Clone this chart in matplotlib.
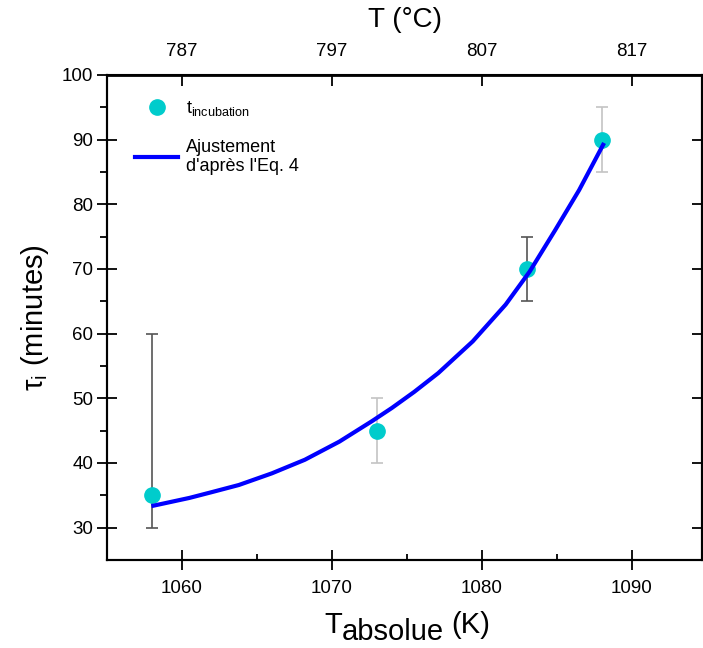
import matplotlib
matplotlib.use("Agg")
import matplotlib.pyplot as plt

plt.rcParams['font.family'] = ['Liberation Sans', 'DejaVu Sans']
plt.rcParams['mathtext.fontset'] = 'custom'
plt.rcParams['mathtext.rm'] = 'Liberation Sans'
plt.rcParams['mathtext.it'] = 'Liberation Sans:italic'

# measured incubation times
temp_k = [1058, 1073, 1083, 1088]
tau_i = [35, 45, 70, 90]
err_low = [5, 5, 5, 5]
err_high = [25, 5, 5, 5]
bar_colors = ['#555555', '#c4c4c4', '#555555', '#c4c4c4']
cap_colors = ['#555555', '#333333', '#333333', '#c4c4c4']

# fitted curve (Eq. 4)
fit_t = [1058.1, 1060.5, 1062, 1063.8, 1066, 1068.2, 1070.5, 1072.7, 1074,
         1075.5, 1077.1, 1079.4, 1081.6, 1083.2, 1084.9, 1086.5, 1088.1]
fit_tau = [33.4, 34.6, 35.5, 36.6, 38.4, 40.5, 43.3, 46.5, 48.5,
           51.0, 53.9, 58.8, 64.5, 69.6, 76.0, 82.2, 89.2]

x_ticks = [1060, 1070, 1080, 1090]
top_labels = ['787', '797', '807', '817']

fig = plt.figure(figsize=(7.03, 6.48), dpi=100)
ax = fig.add_axes([0.1522, 0.1358, 0.8464, 0.7485])

for t, v, lo, hi, bc, cc in zip(temp_k, tau_i, err_low, err_high, bar_colors, cap_colors):
    eb = ax.errorbar([t], [v], yerr=[[lo], [hi]], fmt='none', ecolor=bc,
                     elinewidth=1.2, capsize=4.5, capthick=1.2, zorder=1)
    for cap in eb[1]:
        cap.set_color(cc)

ax.plot(temp_k, tau_i, 'o', color='#00cccc', markersize=11, zorder=2,
        label=r'$\mathregular{t_{incubation}}$')
ax.plot(fit_t, fit_tau, '-', color='#0000ff', linewidth=3, zorder=3,
        solid_joinstyle='round', label="Ajustement\nd'après l'Eq. 4")

ax.set_xlim(1055, 1094.7)
ax.set_ylim(25, 100)
ax.set_xticks(x_ticks)
ax.set_xticks([1065, 1075, 1085], minor=True)
ax.set_yticks(range(30, 101, 10))
ax.set_yticks(range(35, 100, 10), minor=True)

for s in ax.spines.values():
    s.set_linewidth(1.5)

ax.tick_params(axis='x', which='major', direction='inout', length=14, width=1.3,
               labelsize=13.5, pad=7.5)
ax.tick_params(axis='x', which='minor', direction='in', length=4, width=1.3)
ax.tick_params(axis='y', which='major', direction='inout', length=14, width=1.3,
               labelsize=13.5, right=True, pad=3)
ax.tick_params(axis='y', which='minor', direction='out', length=5, width=1.3)

ax.set_ylabel(r'τ$_\mathregular{i}$ (minutes)', fontsize=21, labelpad=8)

# x label: "T" then lowered "absolue", then "(K)"
t1 = ax.annotate('T', xy=(0.5, 0), xycoords='axes fraction', xytext=(-58, -57),
                 textcoords='offset points', fontsize=21, ha='left', va='bottom')
t2 = ax.annotate('absolue', xy=(1, 0), xycoords=t1, xytext=(0, -5),
                 textcoords='offset points', fontsize=21, ha='left', va='bottom')
ax.annotate('(K)', xy=(1, 0), xycoords=t2, xytext=(5, 5),
            textcoords='offset points', fontsize=21, ha='left', va='bottom')

# top axis in Celsius
top = ax.twiny()
top.set_xlim(ax.get_xlim())
top.set_xticks(x_ticks)
top.set_xticklabels(top_labels)
top.tick_params(axis='x', direction='in', length=8, width=1.3, labelsize=13.5, pad=11)
top.set_xlabel('T (°C)', fontsize=20, labelpad=11)
for s in top.spines.values():
    s.set_linewidth(1.5)
top.spines['top'].set_linewidth(2)

leg = ax.legend(loc='upper left', bbox_to_anchor=(0.047, 0.95), frameon=False,
                fontsize=13, handlelength=2.4, handletextpad=0.4,
                labelspacing=1.13, borderpad=0, borderaxespad=0)

fig.savefig('out.png', dpi=100)
plt.close(fig)
